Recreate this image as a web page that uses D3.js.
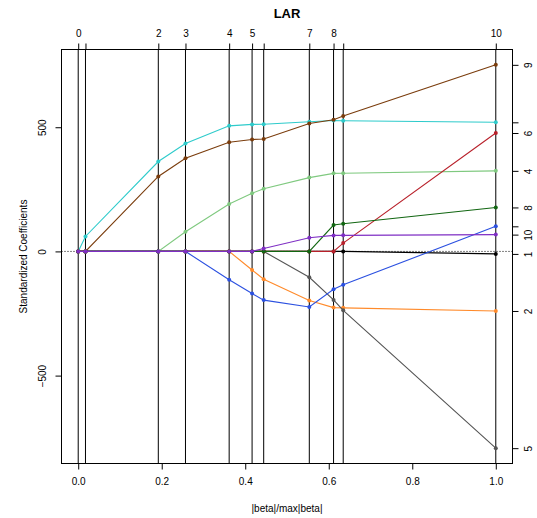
<!DOCTYPE html>
<html>
<head>
<meta charset="utf-8">
<script src="https://cdn.jsdelivr.net/npm/d3@7"></script>
<style>
  body { margin: 0; background: #fff; }
  text { font-family: "Liberation Sans", Arial, Helvetica, sans-serif; }
</style>
</head>
<body>
<script>
// LAR path, diabetes data: |beta|/max|beta| at each step
var fraction = [0, 0.0174, 0.1918, 0.2569, 0.3615, 0.4164, 0.4442, 0.5534, 0.6115, 0.6346, 1.0]
var stepLabels = ["0", "", "2", "3", "4", "5", "", "7", "8", "", "10"]

// standardized coefficients of each variable along the path
var age = [0, 0, 0, 0, 0, 0, 0, 0, 0, 0, -10.01]
var sex = [0, 0, 0, 0, 0, -74.92, -111.98, -197.76, -226.13, -227.18, -239.82]
var bmi = [0, 60.12, 361.89, 434.76, 505.66, 511.35, 512.04, 522.26, 526.89, 526.39, 519.84]
var bp  = [0, 0, 0, 79.24, 191.27, 234.15, 252.53, 297.16, 314.39, 314.95, 324.39]
var s1  = [0, 0, 0, 0, 0, 0, 0, -103.95, -195.11, -237.34, -792.18]
var s2  = [0, 0, 0, 0, 0, 0, 0, 0, 0, 33.63, 476.75]
var s3  = [0, 0, 0, 0, -114.10, -169.71, -196.05, -223.93, -152.48, -134.60, 101.04]
var s4  = [0, 0, 0, 0, 0, 0, 0, 0, 106.34, 111.38, 177.06]
var s5  = [0, 0, 301.78, 374.92, 439.66, 450.67, 452.39, 514.75, 529.92, 545.48, 751.28]
var s6  = [0, 0, 0, 0, 0, 0, 12.08, 54.77, 64.49, 64.61, 67.63]

// right axis labels (variable numbers), blanks where R dropped overlapping ones
var varLabels = ["1", "2", "", "4", "5", "6", "", "8", "9", "10"]
var colors = ["#000000", "#ff8a2a", "#2ecbcb", "#7fc97f", "#555555",
              "#b8202a", "#2b50e0", "#116611", "#7a3c0c", "#7f2fc4"]
var xTicks = [0, 0.2, 0.4, 0.6, 0.8, 1.0]
var yTicks = [-500, 0, 500]

var coefs = [age, sex, bmi, bp, s1, s2, s3, s4, s5, s6]

var width = 537, height = 518
var margin = ({top: 49.5, right: 24.5, bottom: 54.5, left: 61.5})

var svg = d3.select("body").append("svg")
    .attr("width", width)
    .attr("height", height)

// R style: data range padded by 4% on each side
var yMin = d3.min(coefs, d => d3.min(d)), yMax = d3.max(coefs, d => d3.max(d))
var yPad = (yMax - yMin) * 0.04

var xScale = d3.scaleLinear()
    .domain([-0.04, 1.04])
    .range([margin.left, width - margin.right])
var yScale = d3.scaleLinear()
    .domain([yMin - yPad, yMax + yPad])
    .range([height - margin.bottom, margin.top])

var plot = svg.append("g")

// dotted zero line
plot.append("line")
    .attr("x1", xScale.range()[0]).attr("x2", xScale.range()[1])
    .attr("y1", yScale(0)).attr("y2", yScale(0))
    .attr("stroke", "#000").attr("stroke-dasharray", "1,2")

// vertical lines at each step
plot.selectAll(".vline").data(fraction).join("line")
    .attr("class", "vline")
    .attr("x1", d => xScale(d)).attr("x2", d => xScale(d))
    .attr("y1", yScale.range()[1]).attr("y2", yScale.range()[0])
    .attr("stroke", "#000").attr("stroke-width", 1)

var line = d3.line()
    .x((d, i) => xScale(fraction[i]))
    .y(d => yScale(d))

// draw paths, later variables on top
coefs.forEach(function(c, k) {
    var g = plot.append("g")
    g.append("path")
        .attr("d", line(c))
        .attr("fill", "none")
        .attr("stroke", colors[k])
        .attr("stroke-width", 1.1)
    g.selectAll("circle").data(c).join("circle")
        .attr("cx", (d, i) => xScale(fraction[i]))
        .attr("cy", d => yScale(d))
        .attr("r", 2)
        .attr("fill", colors[k])
})

// box
svg.append("rect")
    .attr("x", xScale.range()[0]).attr("y", yScale.range()[1])
    .attr("width", xScale.range()[1] - xScale.range()[0])
    .attr("height", yScale.range()[0] - yScale.range()[1])
    .attr("fill", "none").attr("stroke", "#000")

function styleAxis(a) {
    a.select(".domain").remove()
    a.selectAll("text").attr("font-size", 10).attr("fill", "#000")
        .style("font-family", "'Liberation Sans', Arial, sans-serif")
}

// bottom axis
svg.append("g")
    .attr("transform", "translate(0," + yScale.range()[0] + ")")
    .call(d3.axisBottom(xScale).tickValues(xTicks).tickFormat(d3.format(".1f"))
        .tickSizeOuter(0).tickSize(6).tickPadding(8))
    .call(styleAxis)

// left axis, rotated labels
var left = svg.append("g")
    .attr("transform", "translate(" + xScale.range()[0] + ",0)")
    .call(d3.axisLeft(yScale).tickValues(yTicks).tickFormat(d => d < 0 ? "\u2212" + (-d) : d)
        .tickSizeOuter(0).tickSize(6))
    .call(styleAxis)
left.selectAll("text")
    .attr("x", null).attr("dy", null)
    .attr("text-anchor", "middle")
    .attr("transform", "translate(-16,0) rotate(-90)")

// top axis: step numbers
svg.append("g")
    .attr("transform", "translate(0," + yScale.range()[1] + ")")
    .call(d3.axisTop(xScale).tickValues(fraction).tickFormat((d, i) => stepLabels[i])
        .tickSizeOuter(0).tickSize(6).tickPadding(7))
    .call(styleAxis)

// right axis: variable numbers at final coefficients
var finals = coefs.map(c => c[c.length - 1])
var right = svg.append("g")
    .attr("transform", "translate(" + xScale.range()[1] + ",0)")
    .call(d3.axisRight(yScale).tickValues(finals).tickFormat((d, i) => varLabels[i])
        .tickSizeOuter(0).tickSize(6))
    .call(styleAxis)
right.selectAll("text")
    .attr("x", null).attr("dy", null)
    .attr("text-anchor", "middle")
    .attr("transform", "translate(19,0) rotate(-90)")

// titles
svg.append("text")
    .attr("x", (xScale.range()[0] + xScale.range()[1]) / 2).attr("y", 18)
    .attr("text-anchor", "middle")
    .attr("font-size", 13).attr("font-weight", "bold")
    .text("LAR")

svg.append("text")
    .attr("x", (xScale.range()[0] + xScale.range()[1]) / 2).attr("y", 512)
    .attr("text-anchor", "middle")
    .attr("font-size", 10)
    .text("|beta|/max|beta|")

svg.append("text")
    .attr("transform", "translate(27," + (yScale.range()[0] + yScale.range()[1]) / 2 + ") rotate(-90)")
    .attr("text-anchor", "middle")
    .attr("font-size", 10)
    .text("Standardized Coefficients")
</script>
</body>
</html>
